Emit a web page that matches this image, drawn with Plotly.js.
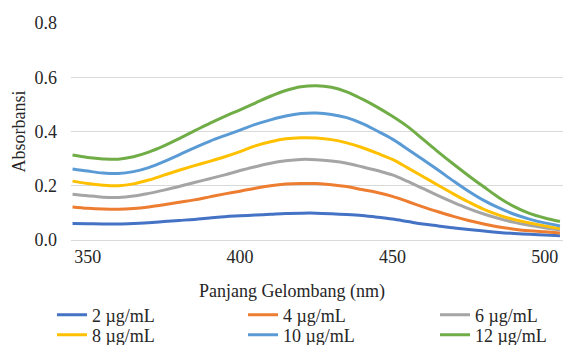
<!DOCTYPE html>
<html>
<head>
<meta charset="utf-8">
<script src="https://cdn.plot.ly/plotly-3.0.1.min.js"></script>
<style>html,body{margin:0;padding:0;background:#fff;}#chart{width:563px;height:345px;}</style>
</head>
<body>
<div id="chart"></div>
<script>
const wavelength = [345,350,355,360,365,370,375,380,385,390,395,400,405,410,415,420,425,430,435,440,445,450,455,460,465,470,475,480,485,490,495,500,505];
const seriesNames = ["2 µg/mL","4 µg/mL","6 µg/mL","8 µg/mL","10 µg/mL","12 µg/mL"];
const abs2  = [0.061,0.060,0.059,0.059,0.061,0.064,0.068,0.072,0.076,0.081,0.086,0.089,0.092,0.095,0.098,0.099,0.099,0.097,0.094,0.090,0.084,0.077,0.068,0.059,0.052,0.045,0.039,0.033,0.028,0.024,0.021,0.018,0.016];
const abs4  = [0.122,0.117,0.114,0.113,0.116,0.122,0.130,0.139,0.148,0.159,0.170,0.180,0.191,0.200,0.206,0.208,0.208,0.204,0.197,0.186,0.175,0.161,0.142,0.122,0.104,0.087,0.072,0.059,0.048,0.040,0.034,0.030,0.026];
const abs6  = [0.169,0.163,0.158,0.157,0.162,0.172,0.184,0.197,0.212,0.226,0.240,0.256,0.270,0.283,0.292,0.297,0.296,0.291,0.283,0.270,0.256,0.240,0.216,0.190,0.164,0.139,0.116,0.096,0.079,0.065,0.054,0.045,0.037];
const abs8  = [0.217,0.208,0.202,0.200,0.207,0.221,0.239,0.257,0.274,0.290,0.307,0.326,0.347,0.362,0.373,0.377,0.376,0.370,0.358,0.341,0.320,0.297,0.266,0.234,0.202,0.170,0.140,0.113,0.092,0.075,0.063,0.052,0.042];
const abs10 = [0.262,0.254,0.247,0.245,0.252,0.267,0.289,0.314,0.340,0.364,0.385,0.405,0.426,0.443,0.457,0.466,0.468,0.463,0.451,0.430,0.402,0.372,0.335,0.297,0.258,0.218,0.180,0.146,0.118,0.095,0.077,0.063,0.052];
const abs12 = [0.313,0.304,0.299,0.298,0.307,0.324,0.347,0.374,0.402,0.430,0.456,0.480,0.505,0.530,0.551,0.565,0.569,0.563,0.546,0.520,0.490,0.456,0.418,0.372,0.325,0.280,0.237,0.196,0.156,0.123,0.098,0.081,0.068];
const xTicks = [350,400,450,500];
const yTicks = [0,0.2,0.4,0.6,0.8];
const xTitle = 'Panjang Gelombang (nm)';
const yTitle = 'Absorbansi';

const colors = ["#4472C4","#ED7D31","#A5A5A5","#FFC000","#5B9BD5","#70AD47"];
const allY = [abs2,abs4,abs6,abs8,abs10,abs12];
const FONT = "Liberation Serif";
const TXT = "#262626";
const legendIds = ['legend','legend2','legend3','legend4','legend5','legend6'];

const traces = allY.map((ys,i)=>({
  x: wavelength, y: ys, name: seriesNames[i], type:'scatter', mode:'lines',
  line:{color:colors[i], width:3, shape:'spline', smoothing:1},
  legend: legendIds[i]
}));

// legend entry anchors (line-sample start, row centre) in pixels
const colX = [57, 248, 440];
const rowY = [315, 335];
const M = {l:71, r:0, t:23, b:105};
const plotW = 563 - M.l - M.r, plotH = 345 - M.t - M.b;

const layout = {
  width:563, height:345,
  margin:M,
  paper_bgcolor:'#fff', plot_bgcolor:'#fff',
  font:{family:FONT, size:18, color:TXT},
  showlegend:true,
  xaxis:{
    range:[344.5,506], tickvals:xTicks, ticks:'', showgrid:false,
    showline:true, linecolor:'#d9d9d9', linewidth:1, zeroline:false,
    tickfont:{family:FONT,size:18,color:TXT}, ticklabelstandoff:0
  },
  yaxis:{
    range:[0,0.8], tickvals:yTicks, tickformat:'.1f', ticks:'',
    showgrid:true, gridcolor:'#d9d9d9', gridwidth:1, zeroline:false, showline:false,
    tickfont:{family:FONT,size:18,color:TXT}, ticklabelstandoff:13,
    title:{text:yTitle, font:{family:FONT,size:18,color:TXT}}
  },
  annotations:[{
    text:xTitle, xref:'paper', yref:'paper',
    x:(292-M.l)/plotW, y:-(291-(345-M.b))/plotH, xanchor:'center', yanchor:'middle',
    showarrow:false, font:{family:FONT,size:18,color:TXT}
  }]
};
legendIds.forEach((id,i)=>{
  layout[id] = {
    orientation:'h', xref:'container', yref:'container', xanchor:'left', yanchor:'middle',
    x:(colX[i%3]-5)/563, y:1-rowY[Math.floor(i/3)]/345,
    font:{family:FONT,size:18,color:TXT}, bgcolor:'rgba(0,0,0,0)', borderwidth:0
  };
});

Plotly.newPlot('chart', traces, layout, {displayModeBar:false, staticPlot:true});
</script>
</body>
</html>
